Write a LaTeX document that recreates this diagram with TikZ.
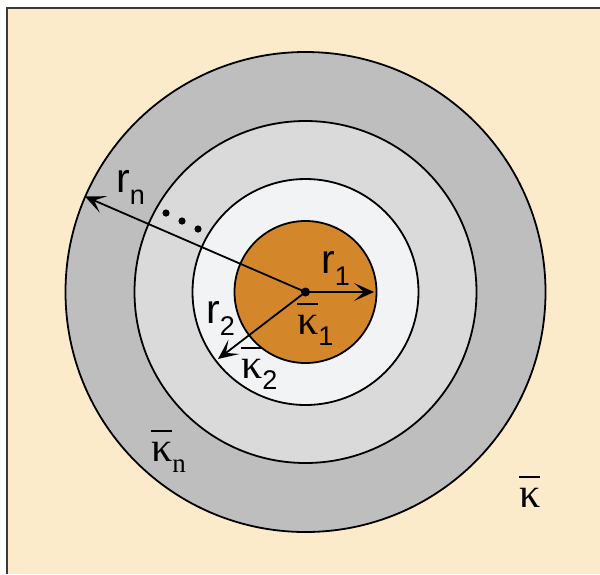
\documentclass[tikz,border=0pt]{standalone}
\usepackage{fontspec}
\setmainfont{Liberation Sans}
\newfontfamily\serifk{Liberation Serif}
\usetikzlibrary{arrows.meta}
\definecolor{bg}{HTML}{FBEBCA}
\definecolor{ringA}{HTML}{BEBEBE}
\definecolor{ringB}{HTML}{DADADA}
\definecolor{ringC}{HTML}{F2F3F5}
\definecolor{core}{HTML}{D4862B}
\definecolor{frameline}{HTML}{3A3A3A}
\newcommand{\kbar}{{\serifk\setbox0\hbox{κ}\rlap{\raisebox{29pt}{\rule{\wd0}{2pt}}}\box0}}
\tikzset{
  ring/.style={draw=black, line width=1.8pt},
  radius arrow/.style={line width=1.8pt, -{Stealth[length=20pt,width=18pt,inset=10pt]}},
  rlabel/.style={inner sep=0pt, anchor=base west, font=\fontsize{41}{41}\selectfont},
  klabel/.style={inner sep=0pt, anchor=base west, font=\fontsize{42}{42}\selectfont},
  dotmark/.style={fill=black, draw=none}
}
\newcommand{\rsub}[1]{\raisebox{-12pt}{\fontsize{27}{27}\selectfont #1}}
\newcommand{\ksub}[1]{\raisebox{-11pt}{\fontsize{27}{27}\selectfont #1}}
\begin{document}
\begin{tikzpicture}[x=1pt,y=-1pt]
\useasboundingbox (0,0) rectangle (600,574);
\fill[white] (0,0) rectangle (600,574);
\fill[bg] (7,8) rectangle (600,574);
\draw[frameline, line width=1.5pt] (7,574) -- (7,8) -- (600,8);
% circles
\coordinate (c) at (305.5,292);
\filldraw[ring, fill=ringA] (c) circle (240pt);
\filldraw[ring, fill=ringB] (c) circle (171pt);
\filldraw[ring, fill=ringC] (c) circle (113pt);
\filldraw[ring, fill=core] (c) circle (71pt);
% arrow ends
\coordinate (e1) at (374,292);
\coordinate (e2) at (218,359);
\coordinate (en) at (85,196.5);
\draw[radius arrow] (c) -- (e1);
\draw[radius arrow] (c) -- (e2);
\draw[radius arrow] (c) -- (en);
\fill (c) circle (4.5pt);
% dots
\fill[dotmark] (166,213) circle (3.6pt);
\fill[dotmark] (182,221) circle (3.6pt);
\fill[dotmark] (198,229) circle (3.6pt);
% labels
\node[rlabel] (lr1) at (321,273) {r\rsub{1}};
\node[rlabel] (lr2) at (206,323) {r\rsub{2}};
\node[rlabel] (lrn) at (116,192) {r\rsub{n}};
\node[klabel] (lk1) at (297,334) {\kbar\ksub{1}};
\node[klabel] (lk2) at (241,378) {\kbar\ksub{2}};
\node[klabel] (lkn) at (151,461) {\kbar\ksub{\serifk n}};
\node[klabel] (lk) at (519,507) {\kbar};
\end{tikzpicture}
\end{document}
